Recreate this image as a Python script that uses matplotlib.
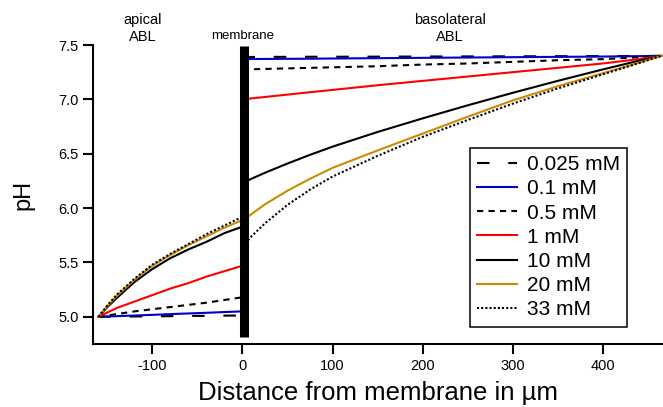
import numpy as np
import matplotlib.pyplot as plt
from matplotlib.transforms import blended_transform_factory

plt.rcParams['font.family'] = ['Liberation Sans', 'DejaVu Sans']
plt.rcParams['axes.unicode_minus'] = False

# Distance grids (µm): apical side left of the membrane, basolateral side right
x_apical = [-160, -150, -140, -120, -100, -80, -60, -40, -20, 0]
x_baso = [0, 10, 25, 50, 75, 100, 150, 200, 250, 300, 350, 400, 435, 465]

labels = ['0.025 mM', '0.1 mM', '0.5 mM', '1 mM', '10 mM', '20 mM', '33 mM']

# pH in the apical ABL
ph_apical = {
    '0.025 mM': [5.00, 5.001, 5.002, 5.003, 5.005, 5.006, 5.008, 5.009, 5.011, 5.012],
    '0.1 mM':   [5.00, 5.003, 5.006, 5.012, 5.018, 5.025, 5.031, 5.037, 5.044, 5.05],
    '0.5 mM':   [5.00, 5.013, 5.025, 5.05, 5.07, 5.09, 5.11, 5.13, 5.155, 5.18],
    '1 mM':     [5.00, 5.04, 5.08, 5.14, 5.20, 5.26, 5.31, 5.37, 5.42, 5.47],
    '10 mM':    [5.00, 5.09, 5.17, 5.32, 5.44, 5.54, 5.62, 5.69, 5.77, 5.83],
    '20 mM':    [5.00, 5.10, 5.19, 5.34, 5.47, 5.57, 5.66, 5.74, 5.82, 5.89],
    '33 mM':    [5.00, 5.105, 5.20, 5.35, 5.48, 5.58, 5.67, 5.76, 5.84, 5.92],
}

# pH in the basolateral ABL
ph_baso = {
    '0.025 mM': [7.390, 7.390, 7.391, 7.391, 7.392, 7.392, 7.393, 7.394, 7.395, 7.396, 7.397, 7.398, 7.399, 7.40],
    '0.1 mM':   [7.370, 7.371, 7.372, 7.373, 7.374, 7.376, 7.379, 7.382, 7.385, 7.388, 7.391, 7.394, 7.397, 7.40],
    '0.5 mM':   [7.275, 7.277, 7.28, 7.285, 7.29, 7.295, 7.305, 7.32, 7.33, 7.345, 7.36, 7.37, 7.385, 7.40],
    '1 mM':     [7.00, 7.009, 7.022, 7.044, 7.066, 7.087, 7.13, 7.17, 7.21, 7.25, 7.29, 7.33, 7.365, 7.40],
    '10 mM':    [6.23, 6.27, 6.325, 6.41, 6.49, 6.565, 6.70, 6.825, 6.945, 7.06, 7.17, 7.275, 7.345, 7.40],
    '20 mM':    [5.88, 5.945, 6.035, 6.16, 6.27, 6.37, 6.53, 6.685, 6.84, 6.99, 7.12, 7.24, 7.325, 7.40],
    '33 mM':    [5.645, 5.74, 5.86, 6.03, 6.17, 6.29, 6.48, 6.655, 6.81, 6.96, 7.10, 7.23, 7.32, 7.40],
}

styles = {
    '0.025 mM': dict(color='black', dashes=(6, 9)),
    '0.1 mM':   dict(color='#0000cc'),
    '0.5 mM':   dict(color='black', dashes=(3, 2.5)),
    '1 mM':     dict(color='#ff0000'),
    '10 mM':    dict(color='black'),
    '20 mM':    dict(color='#cc8a00'),
    '33 mM':    dict(color='black', dashes=(1, 1)),
}

fig = plt.figure(figsize=(6.63, 4.07), dpi=100)
ax = fig.add_axes([0.1403, 0.1548, 0.8597, 0.7346])

for lab in labels:
    st = styles[lab]
    ax.plot(x_apical, ph_apical[lab], lw=1.5, **st)
    ax.plot(x_baso, ph_baso[lab], lw=1.5, label=lab, **st)

# membrane
ax.plot([1.7, 1.7], [4.81, 7.49], color='black', lw=6.5, solid_capstyle='butt', zorder=5)

ax.set_xlim(-166, 467)
ax.set_ylim(4.75, 7.5)
ax.set_xticks([-100, 0, 100, 200, 300, 400])
ax.set_yticks([5.0, 5.5, 6.0, 6.5, 7.0, 7.5])
ax.set_yticklabels(['5.0', '5.5', '6.0', '6.5', '7.0', '7.5'])
ax.tick_params(direction='out', length=7.5, width=1.5, labelsize=10.5, pad=3)

for side in ['top', 'right']:
    ax.spines[side].set_visible(False)
for side in ['left', 'bottom']:
    ax.spines[side].set_linewidth(1.5)

ax.set_xlabel('Distance from membrane in µm', fontsize=18.5, labelpad=6)
ax.set_ylabel('pH', fontsize=17, labelpad=17)

leg = ax.legend(loc='upper left', bbox_to_anchor=(0.661, 0.656), fontsize=15,
                handlelength=1.9, handletextpad=0.5, labelspacing=0.25,
                borderpad=0.35, borderaxespad=0, frameon=True, fancybox=False,
                framealpha=1)
leg.get_frame().set_edgecolor('black')
leg.get_frame().set_linewidth(1.1)

# region labels above the plot
tr = blended_transform_factory(ax.transData, fig.transFigure)
ax.text(-111, 0.93, 'apical\nABL', transform=tr, ha='center', va='center',
        fontsize=10.5, linespacing=1.25)
ax.text(0, 0.912, 'membrane', transform=tr, ha='center', va='center', fontsize=9.5)
ax.text(230, 0.93, 'basolateral\nABL', transform=tr, ha='center', va='center',
        fontsize=10.5, linespacing=1.25)

fig.savefig('out.png', dpi=100)
